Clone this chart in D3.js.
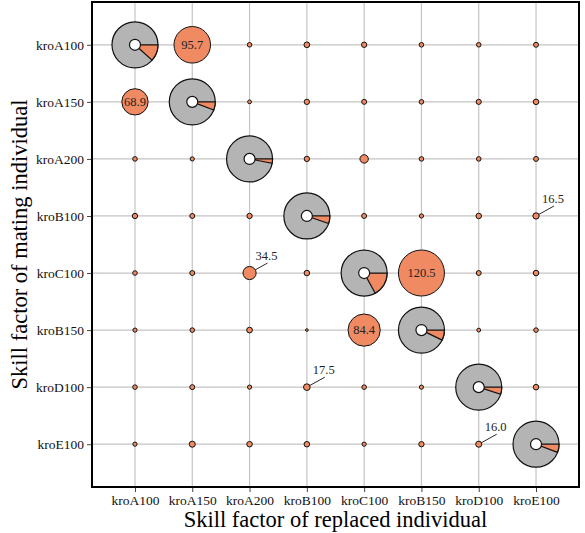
<!DOCTYPE html>
<html>
<head>
<meta charset="utf-8">
<script src="https://cdn.jsdelivr.net/npm/d3@7"></script>
<style>
  body { margin: 0; background: #fff; }
  text { font-family: "Liberation Serif", "Times New Roman", serif; }
</style>
</head>
<body>
<div id="chart"></div>
<script>
// categories (same for both axes)
var cats = ["kroA100", "kroA150", "kroA200", "kroB100", "kroC100", "kroB150", "kroD100", "kroE100"];

// rows = mating individual (y), cols = replaced individual (x); diagonal is null
var rowA100 = [null, 95.7, 12, 15, 14, 12, 12, 13];
var rowA150 = [68.9, null, 10, 14, 13, 12, 13.5, 14.5];
var rowA200 = [12, 11, null, 14, 22, 12, 12, 13];
var rowB100 = [14, 13, 14, null, 13, 11, 14.5, 16.5];
var rowC100 = [12, 13, 34.5, 14.5, null, 120.5, 13, 14.5];
var rowB150 = [11, 12, 15, 7, 84.4, null, 10, 12];
var rowD100 = [12, 13, 11, 17.5, 12, 11, null, 14.5];
var rowE100 = [11, 16, 14.5, 14.5, 11, 14, 16.0, null];
var rows = [rowA100, rowA150, rowA200, rowB100, rowC100, rowB150, rowD100, rowE100];

// orange share of each diagonal pie
var pieFrac = [0.117, 0.058, 0.03, 0.053, 0.17, 0.072, 0.05, 0.058];

// cells that carry a value label [row, col]
var labelled = [[0, 1], [1, 0], [4, 5], [5, 4], [4, 2], [3, 7], [6, 3], [7, 6]];

var W = 585, H = 533;
var pl = 92, pr = 579, pt = 2, pb = 487;
var orange = "#f08a62", grey = "#b4b4b4";

var svg = d3.select("#chart").append("svg")
    .attr("width", W)
    .attr("height", H);

var x = d3.scalePoint().domain(cats).range([pl, pr]).padding(0.75);
var y = d3.scalePoint().domain(cats).range([pt, pb]).padding(0.75);
var maxVal = d3.max(rows, function(r) { return d3.max(r); });
var r = d3.scaleLinear().domain([0, maxVal]).range([0, 23]);

// grid
svg.append("g").selectAll("line").data(cats).enter().append("line")
    .attr("x1", function(d) { return x(d); })
    .attr("x2", function(d) { return x(d); })
    .attr("y1", pt).attr("y2", pb)
    .style("stroke", "#c4c4c4").style("stroke-width", 1.2);
svg.append("g").selectAll("line").data(cats).enter().append("line")
    .attr("y1", function(d) { return y(d); })
    .attr("y2", function(d) { return y(d); })
    .attr("x1", pl).attr("x2", pr)
    .style("stroke", "#c4c4c4").style("stroke-width", 1.2);

// axes
var xAxis = svg.append("g")
    .attr("transform", "translate(0," + pb + ")")
    .call(d3.axisBottom(x).tickSize(5).tickPadding(3));
var yAxis = svg.append("g")
    .attr("transform", "translate(" + pl + ",0)")
    .call(d3.axisLeft(y).tickSize(5).tickPadding(3));
[xAxis, yAxis].forEach(function(a) {
  a.select(".domain").remove();
  a.selectAll("line").style("stroke", "#444");
  a.selectAll("text")
      .style("font-family", "'Liberation Serif', 'Times New Roman', serif")
      .style("font-size", "13.5px")
      .style("fill", "#111");
});

// off-diagonal circles
var cells = [];
rows.forEach(function(row, i) {
  row.forEach(function(v, j) {
    if (v !== null) cells.push({row: i, col: j, value: v});
  });
});

svg.append("g").selectAll("circle").data(cells).enter().append("circle")
    .attr("cx", function(d) { return x(cats[d.col]); })
    .attr("cy", function(d) { return y(cats[d.row]); })
    .attr("r", function(d) { return r(d.value); })
    .style("fill", orange)
    .style("stroke", "#111")
    .style("stroke-width", 1);

// diagonal pies
var pieR = r(maxVal), holeR = 5.5;
var outer = d3.arc().innerRadius(0).outerRadius(pieR);
var pies = svg.append("g").selectAll("g").data(pieFrac).enter().append("g")
    .attr("transform", function(d, i) { return "translate(" + x(cats[i]) + "," + y(cats[i]) + ")"; });
pies.append("circle")
    .attr("r", pieR)
    .style("fill", grey).style("stroke", "#111").style("stroke-width", 1.2);
pies.append("path")
    .attr("d", function(d) {
      return outer({startAngle: Math.PI / 2, endAngle: Math.PI / 2 + d * 2 * Math.PI});
    })
    .style("fill", orange).style("stroke", "#111").style("stroke-width", 1.2);
pies.append("circle")
    .attr("r", holeR)
    .style("fill", "#fff").style("stroke", "#111").style("stroke-width", 1.2);

// value labels
var lab = svg.append("g");
labelled.forEach(function(p) {
  var v = rows[p[0]][p[1]];
  var cx = x(cats[p[1]]), cy = y(cats[p[0]]), rr = r(v);
  if (rr > 10) {
    lab.append("text")
        .attr("x", cx).attr("y", cy)
        .attr("dy", "0.35em")
        .attr("text-anchor", "middle")
        .style("font-size", "12.5px")
        .style("fill", "#222")
        .text(v.toFixed(1));
  } else {
    var ex = cx + 18, ey = cy - 10;
    var len = Math.sqrt(18 * 18 + 10 * 10);
    lab.append("line")
        .attr("x1", cx + rr * 18 / len).attr("y1", cy - rr * 10 / len)
        .attr("x2", ex).attr("y2", ey)
        .style("stroke", "#111").style("stroke-width", 0.9);
    lab.append("text")
        .attr("x", cx + 6).attr("y", cy - 13)
        .style("font-size", "12.5px")
        .style("fill", "#222")
        .text(v.toFixed(1));
  }
});

// frame
svg.append("rect")
    .attr("x", pl).attr("y", pt)
    .attr("width", pr - pl).attr("height", pb - pt)
    .style("fill", "none").style("stroke", "#000").style("stroke-width", 2);

// axis titles
svg.append("text")
    .attr("x", (pl + pr) / 2).attr("y", 527)
    .attr("text-anchor", "middle")
    .style("font-size", "22.5px")
    .text("Skill factor of replaced individual");
svg.append("text")
    .attr("transform", "translate(27," + (pt + pb) / 2 + ") rotate(-90)")
    .attr("text-anchor", "middle")
    .style("font-size", "22.5px")
    .text("Skill factor of mating individual");
</script>
</body>
</html>
